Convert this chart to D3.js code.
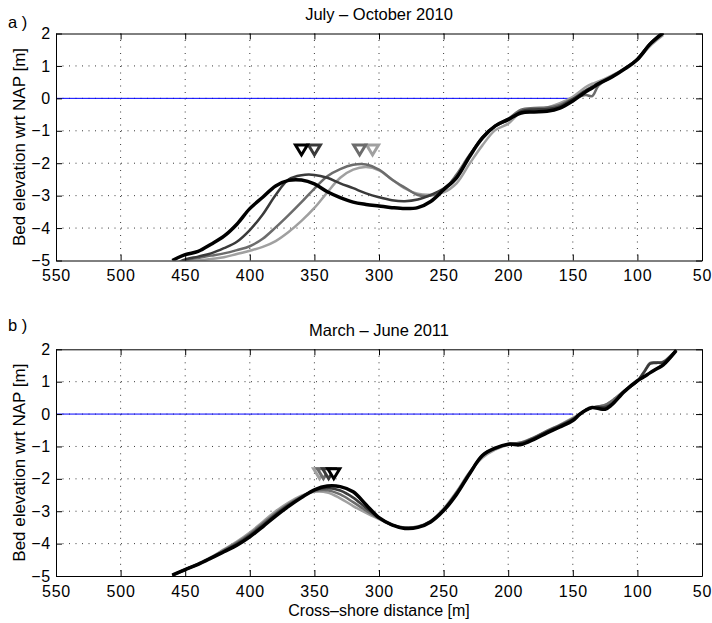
<!DOCTYPE html>
<html>
<head>
<meta charset="utf-8">
<script src="https://cdnjs.cloudflare.com/ajax/libs/d3/7.8.5/d3.min.js"></script>
<style>
  body { margin: 0; background: #fff; }
  text { font-family: "Liberation Sans", Arial, Helvetica, sans-serif; fill: #000; }
</style>
</head>
<body>
<div id="chart"></div>
<script>
// cross-shore distance grid [m] and bed levels [m NAP]
var distA = [460,450,440,430,420,410,400,390,380,370,360,350,340,330,320,310,300,290,280,270,
             260,250,240,230,220,210,200,190,180,170,160,150,140,135,130,120,110,100,90,80];
var julLight = [-5.25,-5.05,-5.0,-4.95,-4.9,-4.8,-4.7,-4.58,-4.4,-4.12,-3.78,-3.38,-2.9,-2.45,-2.2,-2.12,-2.22,-2.5,-2.78,-2.94,
                -2.97,-2.9,-2.62,-2.02,-1.45,-0.98,-0.78,-0.42,-0.32,-0.28,-0.15,0.05,0.35,0.45,0.52,0.7,0.92,1.2,1.62,1.95];
var julMid   = [-5.2,-5.0,-4.92,-4.85,-4.78,-4.68,-4.56,-4.33,-3.98,-3.6,-3.2,-2.78,-2.4,-2.18,-2.05,-2.04,-2.2,-2.5,-2.75,-2.98,
                -3.0,-2.82,-2.35,-1.75,-1.25,-0.85,-0.63,-0.35,-0.3,-0.28,-0.2,-0.02,0.1,0.07,0.4,0.66,0.92,1.22,1.68,2.03];
var julDark  = [-5.15,-4.97,-4.88,-4.78,-4.62,-4.42,-4.06,-3.58,-2.98,-2.5,-2.37,-2.36,-2.45,-2.62,-2.77,-2.93,-3.05,-3.14,-3.17,-3.12,
                -2.98,-2.78,-2.42,-1.78,-1.2,-0.85,-0.67,-0.4,-0.34,-0.33,-0.25,-0.02,0.25,0.36,0.47,0.68,0.92,1.22,1.7,2.05];
var julBlack = [-5.0,-4.82,-4.72,-4.5,-4.25,-3.88,-3.4,-3.05,-2.7,-2.53,-2.52,-2.64,-2.88,-3.06,-3.2,-3.27,-3.32,-3.37,-3.4,-3.37,
                -3.18,-2.82,-2.45,-1.8,-1.22,-0.85,-0.65,-0.45,-0.42,-0.4,-0.3,-0.08,0.2,0.32,0.45,0.65,0.9,1.2,1.68,2.02];

var distB = [460,450,440,430,420,410,400,390,380,370,360,350,340,330,320,310,300,290,280,270,
             260,250,240,230,220,210,200,190,180,170,160,150,145,140,135,130,125,120,110,100,95,90,85,80,70];
var marLight = [-5.0,-4.8,-4.62,-4.42,-4.18,-3.94,-3.66,-3.33,-3.0,-2.73,-2.52,-2.4,-2.42,-2.6,-2.84,-3.05,-3.24,-3.42,-3.5,-3.47,
                -3.3,-2.92,-2.4,-1.8,-1.35,-1.1,-0.95,-0.88,-0.72,-0.52,-0.33,-0.12,0.0,0.12,0.2,0.24,0.28,0.4,0.72,1.02,1.15,1.28,1.4,1.54,1.98];
var marMid   = [-4.98,-4.8,-4.63,-4.43,-4.2,-3.97,-3.7,-3.38,-3.06,-2.78,-2.55,-2.38,-2.35,-2.48,-2.72,-2.98,-3.22,-3.42,-3.5,-3.48,
                -3.3,-2.95,-2.42,-1.82,-1.3,-1.07,-0.93,-0.88,-0.72,-0.52,-0.34,-0.14,-0.02,0.12,0.2,0.24,0.28,0.4,0.72,1.02,1.3,1.58,1.6,1.62,1.98];
var marDark  = [-4.98,-4.8,-4.64,-4.44,-4.23,-4.01,-3.74,-3.43,-3.1,-2.81,-2.56,-2.35,-2.28,-2.36,-2.58,-2.9,-3.2,-3.42,-3.52,-3.49,
                -3.32,-2.96,-2.45,-1.85,-1.28,-1.05,-0.93,-0.9,-0.74,-0.54,-0.36,-0.16,-0.02,0.12,0.2,0.22,0.22,0.32,0.7,1.02,1.28,1.56,1.58,1.6,1.98];
var marBlack = [-4.97,-4.8,-4.64,-4.45,-4.25,-4.05,-3.79,-3.48,-3.15,-2.85,-2.58,-2.34,-2.22,-2.24,-2.4,-2.8,-3.2,-3.42,-3.53,-3.5,
                -3.33,-2.98,-2.48,-1.85,-1.28,-1.05,-0.93,-0.94,-0.78,-0.58,-0.4,-0.2,-0.02,0.12,0.2,0.17,0.15,0.28,0.7,1.03,1.15,1.28,1.4,1.52,1.96];

// bar crest markers (distance) and the level they are drawn at
var crestA = [305, 315, 350, 360];
var crestALevel = -1.56;
var crestB = [346, 343, 339, 335];
var crestBLevel = -1.81;

var xTicks = [550,500,450,400,350,300,250,200,150,100,50];
var yTicks = [-5,-4,-3,-2,-1,0,1,2];
var greys = ["#a0a0a0", "#6c6c6c", "#3a3a3a", "#000000"];
var widths = [2.5, 2.5, 2.5, 3.5];

var W = 712, H = 623;
var svg = d3.select("#chart").append("svg")
    .attr("width", W)
    .attr("height", H);

var x = d3.scaleLinear().domain([550, 50]).range([56, 702]);

function drawPanel(id, top, bottom, dist, series, crest, crestLevel, title, tag, titleY, tagY) {
  var y = d3.scaleLinear().domain([-5, 2]).range([bottom, top]);
  var g = svg.append("g");

  g.append("clipPath").attr("id", "clip" + id)
    .append("rect")
      .attr("x", x(550)).attr("y", top)
      .attr("width", x(50) - x(550)).attr("height", bottom - top);

  // dotted grid
  g.selectAll(".gx").data(xTicks.slice(1, -1)).enter().append("line")
      .attr("x1", d => x(d)).attr("x2", d => x(d))
      .attr("y1", top).attr("y2", bottom)
      .attr("stroke", "#222").attr("stroke-width", 0.9)
      .attr("stroke-dasharray", "1,5.5");
  g.selectAll(".gy").data(yTicks.slice(1, -1)).enter().append("line")
      .attr("x1", x(550)).attr("x2", x(50))
      .attr("y1", d => y(d)).attr("y2", d => y(d))
      .attr("stroke", "#222").attr("stroke-width", 0.9)
      .attr("stroke-dasharray", "1,5.5");

  // mean sea level line
  g.append("line")
      .attr("x1", x(550)).attr("x2", x(150))
      .attr("y1", y(0)).attr("y2", y(0))
      .attr("stroke", "#0000ff").attr("stroke-width", 1);

  var line = d3.line()
      .x(d => x(d[0]))
      .y(d => y(d[1]))
      .curve(d3.curveCatmullRom.alpha(0.5));

  series.forEach(function(s, i) {
    g.append("path")
        .datum(dist.map((d, j) => [d, s[j]]))
        .attr("clip-path", "url(#clip" + id + ")")
        .attr("fill", "none")
        .attr("stroke", greys[i])
        .attr("stroke-width", widths[i])
        .attr("stroke-linejoin", "round")
        .attr("d", line);
  });

  crest.forEach(function(c, i) {
    g.append("path")
        .attr("transform", "translate(" + x(c) + "," + y(crestLevel) + ")")
        .attr("d", "M-6,-4L6,-4L0,6Z")
        .attr("fill", "#fff")
        .attr("stroke", greys[i])
        .attr("stroke-width", 3);
  });

  // axes with inward ticks on all four sides
  g.append("g")
      .attr("transform", "translate(0," + bottom + ")")
      .call(d3.axisBottom(x).tickValues(xTicks).tickSize(-6).tickSizeOuter(0).tickPadding(9.5))
      .call(a => a.selectAll("text").attr("font-size", 16).attr("letter-spacing", 0.8));
  g.append("g")
      .attr("transform", "translate(0," + top + ")")
      .call(d3.axisTop(x).tickValues(xTicks).tickSize(-6).tickSizeOuter(0).tickFormat(""));
  g.append("g")
      .attr("transform", "translate(" + x(550) + ",0)")
      .call(d3.axisLeft(y).tickValues(yTicks).tickSize(-6).tickSizeOuter(0).tickPadding(5)
        .tickFormat(d3.format("d")))
      .call(a => a.selectAll("text").attr("font-size", 16).attr("letter-spacing", 0.8));
  g.append("g")
      .attr("transform", "translate(" + x(50) + ",0)")
      .call(d3.axisRight(y).tickValues(yTicks).tickSize(-6).tickSizeOuter(0).tickFormat(""));
  g.selectAll(".domain").attr("stroke", "#000");
  g.selectAll(".tick line").attr("stroke", "#000");

  g.append("text")
      .attr("x", (x(550) + x(50)) / 2).attr("y", titleY)
      .attr("text-anchor", "middle").attr("font-size", 16.5)
      .text(title);
  g.append("text")
      .attr("x", 8).attr("y", tagY)
      .attr("font-size", 16.5)
      .text(tag);
  g.append("text")
      .attr("transform", "translate(25," + (top + bottom) / 2 + ") rotate(-90)")
      .attr("text-anchor", "middle").attr("font-size", 17)
      .text("Bed elevation wrt NAP [m]");
  return g;
}

drawPanel("a", 33.5, 260.5, distA, [julLight, julMid, julDark, julBlack], crestA, crestALevel,
          "July \u2013 October 2010", "a )", 19.5, 28);
var gb = drawPanel("b", 349.3, 576, distB, [marLight, marMid, marDark, marBlack], crestB, crestBLevel,
          "March \u2013 June 2011", "b )", 336, 331);

gb.append("text")
    .attr("x", (x(550) + x(50)) / 2).attr("y", 616)
    .attr("text-anchor", "middle").attr("font-size", 16)
    .text("Cross\u2013shore distance [m]");
</script>
</body>
</html>
